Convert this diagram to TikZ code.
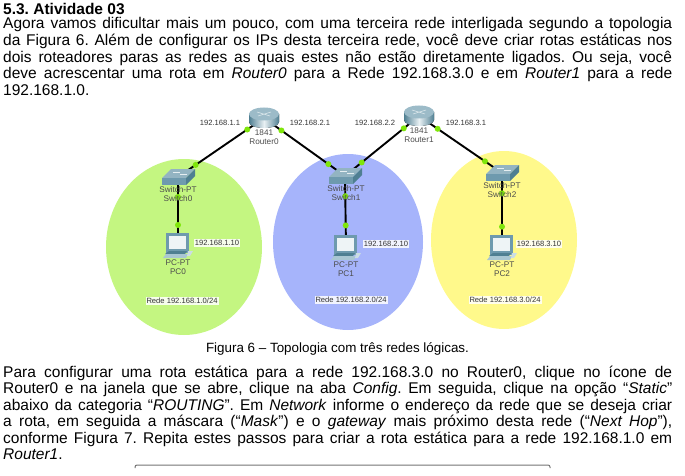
\documentclass[tikz,border=0pt]{standalone}
\usepackage{fontspec}
\setmainfont{Liberation Sans}
\usetikzlibrary{positioning}
\frenchspacing

\definecolor{netgreen}{HTML}{C4F681}
\definecolor{netblue}{HTML}{A6B4FB}
\definecolor{netyellow}{HTML}{FFF98B}
\definecolor{linkgreen}{HTML}{7FE60A}
\definecolor{devdark}{HTML}{4F7F92}
\definecolor{devmid}{HTML}{6E9AAE}
\definecolor{devlight}{HTML}{A9C6D2}

\tikzset{
    devspot/.style={inner sep=0pt,minimum size=1pt},
    link/.style={line width=1.9pt,black},
    linkdot/.style={circle,fill=linkgreen,inner sep=0pt,minimum size=6pt},
    devlabel/.style={font=\fontsize{8.2}{9.2}\selectfont,text=black!70,align=center,inner sep=0pt},
    iplabel/.style={font=\fontsize{7.6}{8}\selectfont,text=black!80,fill=white,fill opacity=.85,text opacity=1,inner sep=1pt},
    para/.style={anchor=north west,inner sep=0pt,text width=669pt,align=justify,font=\fontsize{15.5}{16.55}\selectfont},
    routericon/.pic={
        \fill[left color=devdark,right color=devdark,middle color=white!75!devlight] (-15,-4) -- (-15,4) arc[start angle=180,end angle=0,x radius=15,y radius=6] -- (15,-4) -- cycle;
        \fill[devlight!85!devdark] (0,-4) ellipse[x radius=15,y radius=6.5];
        \draw[white!70!devlight,line width=.5pt] (-7,-6) -- (6,-2) (-6,-2) -- (7,-6);
    },
    switchicon/.pic={
        \fill[devlight!75!devdark] (-16,1) -- (-7,-8) -- (17,-8) -- (8,1) -- cycle;
        \fill[devmid] (-16,1) rectangle (8,8);
        \fill[devdark] (8,1) -- (17,-8) -- (17,-1) -- (8,8) -- cycle;
        \draw[white!70!devlight,line width=.4pt] (-5,-5) -- (2,-5) (2,-3) -- (9,-3);
    },
    pcicon/.pic={
        \fill[devmid] (-12,-12) rectangle (11,8);
        \fill[white!80!devlight] (-9,-9) rectangle (8,4);
        \fill[devdark] (-13,9) -- (-9,6) -- (9,6) -- (7,9) -- cycle;
        \fill[devlight] (-15,13) -- (-12,9) -- (10,9) -- (8,13) -- cycle;
        \fill[devlight!60!white] (10,6) -- (15,6) -- (12,11) -- (9,11) -- cycle;
    },
}

\begin{document}
\begin{tikzpicture}[x=1pt,y=-1pt]
\useasboundingbox (0,0) rectangle (685,476);

% networks
\fill[netgreen]  (184,247) ellipse[x radius=78,y radius=88];
\fill[netblue]   (348,242) ellipse[x radius=75,y radius=88];
\fill[netyellow] (504,240) ellipse[x radius=73,y radius=89];

% device positions
\node[devspot] (Router0) at (264,118) {};
\node[devspot] (Router1) at (419,116) {};
\node[devspot] (Switch0) at (178,177) {};
\node[devspot] (Switch1) at (345,176) {};
\node[devspot] (Switch2) at (502,173) {};
\node[devspot] (PC0)     at (178,245) {};
\node[devspot] (PC1)     at (346,247) {};
\node[devspot] (PC2)     at (502,247) {};

\path[link]
(Router0) edge (Switch0)
(Router0) edge (Switch1)
(Router1) edge (Switch1)
(Router1) edge (Switch2)
(Switch0) edge (PC0)
(Switch1) edge (PC1)
(Switch2) edge (PC2);

% icons
\pic at (Router0) {routericon};
\pic at (Router1) {routericon};
\pic at (Switch0) {switchicon};
\pic at (Switch1) {switchicon};
\pic at (Switch2) {switchicon};
\pic at (PC0) {pcicon};
\pic at (PC1) {pcicon};
\pic at (PC2) {pcicon};

% link lights
\path (Router0) -- node[linkdot,pos=.19] (dotA) {} node[linkdot,pos=.80] (dotB) {} (Switch0);
\path (Router0) -- node[linkdot,pos=.21] (dotC) {} node[linkdot,pos=.80] (dotD) {} (Switch1);
\path (Router1) -- node[linkdot,pos=.20] (dotE) {} node[linkdot,pos=.78] (dotF) {} (Switch1);
\path (Router1) -- node[linkdot,pos=.22] (dotG) {} node[linkdot,pos=.80] (dotH) {} (Switch2);
\path (Switch0) -- node[linkdot,pos=.29] (dotI) {} node[linkdot,pos=.71] (dotJ) {} (PC0);
\path (Switch1) -- node[linkdot,pos=.28] (dotK) {} node[linkdot,pos=.70] (dotL) {} (PC1);
\path (Switch2) -- node[linkdot,pos=.27] (dotM) {} node[linkdot,pos=.73] (dotN) {} (PC2);

% device labels
\node[devlabel] (labR0) at (264,137) {1841\\Router0};
\node[devlabel] (labR1) at (419,135) {1841\\Router1};
\node[devlabel] (labS0) at (178,194) {Switch-PT\\Switch0};
\node[devlabel] (labS1) at (346,193) {Switch-PT\\Switch1};
\node[devlabel] (labS2) at (502,190) {Switch-PT\\Switch2};
\node[devlabel] (labP0) at (178,267) {PC-PT\\PC0};
\node[devlabel] (labP1) at (346,269) {PC-PT\\PC1};
\node[devlabel] (labP2) at (502,269) {PC-PT\\PC2};

% addresses
\node[iplabel] (ipA) at (220,123) {192.168.1.1};
\node[iplabel] (ipB) at (310,123) {192.168.2.1};
\node[iplabel] (ipC) at (375,123) {192.168.2.2};
\node[iplabel] (ipD) at (466,123) {192.168.3.1};
\node[iplabel] (ipE) at (217,243) {192.168.1.10};
\node[iplabel] (ipF) at (386,244) {192.168.2.10};
\node[iplabel] (ipG) at (539,244) {192.168.3.10};
\node[iplabel] (netA) at (182,301) {Rede 192.168.1.0/24};
\node[iplabel] (netB) at (351,300) {Rede 192.168.2.0/24};
\node[iplabel] (netC) at (505,300) {Rede 192.168.3.0/24};

% text
\node[para] (head) at (3,3.5) {\textbf{5.3. Atividade 03}};
\node[para] (intro) at (3,17.5) {Agora vamos dificultar mais um pouco, com uma terceira rede interligada segundo a topologia\linebreak
da Figura 6. Além de configurar os IPs desta terceira rede, você deve criar rotas estáticas nos\linebreak
dois roteadores paras as redes as quais estes não estão diretamente ligados. Ou seja, você\linebreak
deve acrescentar uma rota em \textit{Router0} para a Rede 192.168.3.0 e em \textit{Router1} para a rede\linebreak
192.168.1.0.};
\node[font=\fontsize{13.4}{14}\selectfont,inner sep=0pt] (caption) at (337.5,349) {Figura 6 -- Topologia com três redes lógicas.};
\node[para] (steps) at (3,365.5) {Para configurar uma rota estática para a rede 192.168.3.0 no Router0, clique no ícone de\linebreak
Router0 e na janela que se abre, clique na aba \textit{Config}. Em seguida, clique na opção “\textit{Static}”\linebreak
abaixo da categoria “\textit{ROUTING}”. Em \textit{Network} informe o endereço da rede que se deseja criar\linebreak
a rota, em seguida a máscara (“\textit{Mask}”) e o \textit{gateway} mais próximo desta rede (“\textit{Next Hop}”),\linebreak
conforme Figura 7. Repita estes passos para criar a rota estática para a rede 192.168.1.0 em\linebreak
\textit{Router1}.};

% next figure frame
\draw[black!55,line width=1pt,rounded corners=2pt] (135,468) -- (135,465) -- (550,465) -- (550,468);
\end{tikzpicture}
\end{document}
